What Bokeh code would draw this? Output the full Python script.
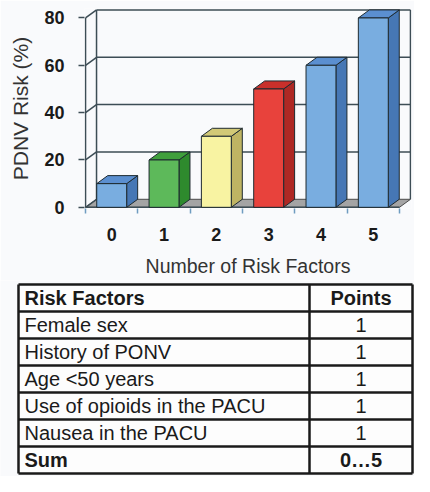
from bokeh.plotting import figure
from bokeh.models import Range1d, FixedTicker, ColumnDataSource
from bokeh.layouts import column
from bokeh.embed import file_html
from bokeh.resources import INLINE
from bokeh.core.properties import value

# ---------------- data ----------------
risk_factor_counts = [0, 1, 2, 3, 4, 5]
ponv_risk_pct = [10, 20, 30, 50, 60, 80]
x_tick_labels = ["0", "1", "2", "3", "4", "5"]
y_ticks = [0, 20, 40, 60, 80]

table_header = ["Risk Factors", "Points"]
table_factors = ["Female sex", "History of PONV", "Age <50 years",
                 "Use of opioids in the PACU", "Nausea in the PACU"]
table_points = ["1", "1", "1", "1", "1"]
table_sum = ["Sum", "0\u20265"]

# ---------------- styles ----------------
front_colors = ["#79ade0", "#5db95a", "#f8f3a2", "#e8423c", "#79ade0", "#79ade0"]
top_colors = ["#5b8fd0", "#3f9f3c", "#d2c977", "#c9302b", "#5b8fd0", "#5b8fd0"]
side_colors = ["#4677b5", "#2e8a2d", "#bfb463", "#ae2824", "#4677b5", "#4677b5"]

BG = "#f9fafc"
EDGE = "#1e2a30"
WALL = "#3d4d55"
FONT = "Liberation Sans"
DX = 0.21      # depth offset in category units
DY = 3.39      # depth offset in value units
HALF = 0.286   # half bar width

# ---------------- chart ----------------
p = figure(width=414, height=280,
           x_range=Range1d(-0.52, 5.73), y_range=Range1d(-0.5, 84.0),
           output_backend="svg", toolbar_location=None,
           min_border_left=84, min_border_right=3, min_border_top=8, min_border_bottom=72,
           background_fill_color=BG, border_fill_color=BG, outline_line_color=None,
           frame_align=False)
p.xgrid.visible = False
p.ygrid.visible = False

x0 = min(risk_factor_counts) - 0.5
x1 = max(risk_factor_counts) + 0.5
ymax = max(y_ticks)

# floor
p.patch([x0, x1, x1 + DX, x0 + DX], [0, 0, DY, DY],
        fill_color="#a4a4a4", line_color="#4a4a4a", line_width=1)

# back wall grid & edges
wall_xs, wall_ys = [], []
for v in y_ticks[1:]:
    wall_xs.append([x0 + DX, x1 + DX]); wall_ys.append([v + DY, v + DY])
for v in y_ticks:
    wall_xs.append([x0, x0 + DX]); wall_ys.append([v, v + DY])
wall_xs.append([x0 + DX, x0 + DX]); wall_ys.append([DY, ymax + DY])
wall_xs.append([x1 + DX, x1 + DX]); wall_ys.append([DY, ymax + DY])
wall_xs.append([x0, x0]); wall_ys.append([0, ymax])
wall_xs.append([x0, x1]); wall_ys.append([0, 0])
p.multi_line(wall_xs, wall_ys, line_color=WALL, line_width=1.5)

# 3D bars
front_src = ColumnDataSource(dict(
    left=[c - HALF for c in risk_factor_counts],
    right=[c + HALF for c in risk_factor_counts],
    top=ponv_risk_pct, bottom=[0] * len(ponv_risk_pct), color=front_colors))
top_src = ColumnDataSource(dict(
    xs=[[c - HALF, c + HALF, c + HALF + DX, c - HALF + DX] for c in risk_factor_counts],
    ys=[[v, v, v + DY, v + DY] for v in ponv_risk_pct], color=top_colors))
side_src = ColumnDataSource(dict(
    xs=[[c + HALF, c + HALF + DX, c + HALF + DX, c + HALF] for c in risk_factor_counts],
    ys=[[0, DY, v + DY, v] for v in ponv_risk_pct], color=side_colors))
p.patches("xs", "ys", source=side_src, fill_color="color", line_color=EDGE, line_width=1)
p.patches("xs", "ys", source=top_src, fill_color="color", line_color=EDGE, line_width=1)
p.quad(left="left", right="right", top="top", bottom="bottom", source=front_src,
       fill_color="color", line_color=EDGE, line_width=1)

# axes
yax = p.yaxis[0]
yax.ticker = FixedTicker(ticks=y_ticks)
yax.axis_line_color = None
yax.major_tick_out = 6
yax.major_tick_in = 0
yax.minor_tick_line_color = None
yax.major_tick_line_color = WALL
yax.major_tick_line_width = 1.5
yax.major_label_standoff = 14
yax.major_label_text_font = FONT
yax.major_label_text_font_size = "18px"
yax.major_label_text_font_style = "bold"
yax.major_label_text_color = "#1a1a1a"
yax.axis_label = "PDNV Risk (%)"
yax.axis_label_text_font = FONT
yax.axis_label_text_font_size = "21px"
yax.axis_label_text_font_style = "normal"
yax.axis_label_text_color = "#333333"
yax.axis_label_standoff = 9

xax = p.xaxis[0]
xax.ticker = FixedTicker(ticks=risk_factor_counts,
                         minor_ticks=[c - 0.5 for c in risk_factor_counts] + [x1])
xax.major_label_overrides = {c: lbl for c, lbl in zip(risk_factor_counts, x_tick_labels)}
xax.axis_line_color = None
xax.major_tick_line_color = None
xax.major_tick_out = 0
xax.major_tick_in = 0
xax.minor_tick_out = 5
xax.minor_tick_in = 0
xax.minor_tick_line_color = "#6f9cc0"
xax.minor_tick_line_width = 1.5
xax.major_label_standoff = 14
xax.major_label_text_font = FONT
xax.major_label_text_font_size = "18px"
xax.major_label_text_font_style = "bold"
xax.major_label_text_color = "#1a1a1a"
xax.axis_label = "Number of Risk Factors"
xax.axis_label_text_font = FONT
xax.axis_label_text_font_size = "19.5px"
xax.axis_label_text_font_style = "normal"
xax.axis_label_text_color = "#333333"
xax.axis_label_standoff = 11

# ---------------- table ----------------
T_W, T_H = 414, 196
t = figure(width=T_W, height=T_H, x_range=Range1d(0, T_W), y_range=Range1d(T_H, 0),
           output_backend="svg", toolbar_location=None,
           x_axis_location=None, y_axis_location=None, min_border=0,
           background_fill_color=BG, border_fill_color=BG, outline_line_color=None,
           frame_align=False)
t.grid.visible = False

rows_left = [table_header[0]] + table_factors + [table_sum[0]]
rows_right = [table_header[1]] + table_points + [table_sum[1]]
bold_rows = [True] + [False] * len(table_factors) + [True]
n_rows = len(rows_left)

tl, tr, tdiv, ttop, rh = 18, 412, 309, 4, 27.0
tbot = ttop + n_rows * rh

t.quad(left=[tl], right=[tr], top=[ttop], bottom=[tbot], fill_color="#fdfdfd", line_color=None)
hx, hy = [], []
for i in range(n_rows + 1):
    hx.append([tl, tr]); hy.append([ttop + i * rh] * 2)
for xv in (tl, tdiv, tr):
    hx.append([xv, xv]); hy.append([ttop, tbot])
t.multi_line(hx, hy, line_color="#1a1a1a", line_width=2.5)

centers = [ttop + (i + 0.5) * rh for i in range(n_rows)]
for is_bold in (True, False):
    idx = [i for i in range(n_rows) if bold_rows[i] == is_bold]
    style = "bold" if is_bold else "normal"
    t.text(x=[tl + 6] * len(idx), y=[centers[i] for i in idx], text=[rows_left[i] for i in idx],
           text_font=value(FONT), text_font_size="20px", text_font_style=style,
           text_color="#1a1a1a", text_baseline="middle", text_align="left")
    t.text(x=[(tdiv + tr) / 2] * len(idx), y=[centers[i] for i in idx], text=[rows_right[i] for i in idx],
           text_font=value(FONT), text_font_size="20px", text_font_style=style,
           text_color="#1a1a1a", text_baseline="middle", text_align="center")

layout = column(p, t, spacing=0)
open("out.html", "w").write(file_html(layout, INLINE))
